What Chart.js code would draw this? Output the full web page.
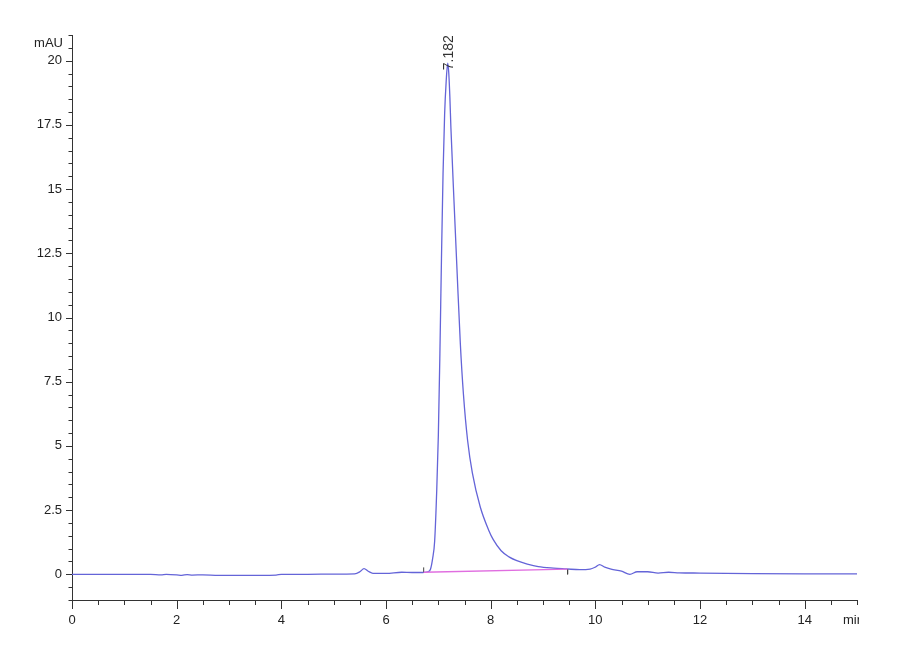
<!DOCTYPE html>
<html>
<head>
<meta charset="utf-8">
<title>Chromatogram</title>
<script src="https://cdn.jsdelivr.net/npm/chart.js@4.4.0/dist/chart.umd.min.js"></script>
<style>
  html, body { margin: 0; padding: 0; background: #fff; }
  canvas { display: block; }
</style>
</head>
<body>
<canvas id="myChart" width="900" height="660"></canvas>
<script>
// retention time (min) and absorbance (mAU)
const times = [0.0, 0.5, 1.0, 1.5, 1.7, 1.8, 2.0, 2.1, 2.2, 2.3, 2.5, 2.8, 3.2, 3.6, 3.9, 4.0, 4.5, 5.0, 5.4,
  5.5, 5.58, 5.66, 5.75, 6.0, 6.3, 6.5, 6.7, 6.8, 6.85, 6.89, 6.93, 6.97, 7.00, 7.03, 7.06, 7.09, 7.12,
  7.15, 7.18, 7.20, 7.22, 7.24, 7.30, 7.36, 7.42, 7.48, 7.56, 7.65, 7.80, 7.96, 8.05, 8.2, 8.35, 8.5, 8.7,
  8.91, 9.2, 9.45, 9.7, 9.9, 10.0, 10.08, 10.18, 10.3, 10.5, 10.66, 10.8, 11.0, 11.2, 11.4, 11.6, 12.0,
  13.0, 14.0, 15.0];
const mAU = [0.0, 0.0, 0.0, 0.0, -0.02, 0.0, -0.02, -0.04, -0.01, -0.03, -0.02, -0.04, -0.04, -0.04, -0.03, 0.0, 0.0, 0.01, 0.02,
  0.1, 0.22, 0.12, 0.04, 0.04, 0.08, 0.07, 0.07, 0.1, 0.2, 0.6, 1.3, 3.3, 5.4, 8.6, 12.3, 15.6, 17.9,
  19.2, 19.9, 19.5, 18.6, 17.4, 14.5, 11.7, 9.0, 7.0, 5.2, 3.95, 2.63, 1.73, 1.35, 0.92, 0.68, 0.53, 0.4,
  0.3, 0.24, 0.21, 0.18, 0.2, 0.28, 0.38, 0.28, 0.2, 0.12, 0.0, 0.1, 0.1, 0.05, 0.08, 0.06, 0.05,
  0.03, 0.02, 0.02];

// integration baseline of the main peak
const baseTimes = [6.72, 9.47];
const baseValues = [0.08, 0.2];
const startMark = [0.08, 0.27];
const endMark = [0.2, 0.0];

const peakTime = 7.182;
const peakHeight = 19.9;
const peakLabel = '7.182';

const xMajor = 2;
const yMajor = 2.5;
const minorStep = 0.5;

const isMultiple = (v, step) => Math.abs(v / step - Math.round(v / step)) < 1e-6;
const toPoints = (xs, ys) => xs.map((t, i) => ({x: t, y: ys[i]}));

const ticksPlugin = {
  id: 'hplcTicks',
  afterDraw(chart) {
    const c = chart.ctx;
    const x = chart.scales.x;
    const y = chart.scales.y;
    c.save();
    c.strokeStyle = '#333';
    c.lineWidth = 1;
    c.beginPath();
    x.ticks.forEach(t => {
      const px = Math.round(x.getPixelForValue(t.value)) + 0.5;
      const len = isMultiple(t.value, xMajor) ? 9 : 5;
      c.moveTo(px, x.top);
      c.lineTo(px, x.top + len);
    });
    y.ticks.forEach(t => {
      const py = Math.round(y.getPixelForValue(t.value)) + 0.5;
      const len = isMultiple(t.value, yMajor) && t.value >= 0 ? 6 : 3.5;
      c.moveTo(y.right - len, py);
      c.lineTo(y.right, py);
    });
    c.stroke();

    c.fillStyle = '#222';
    c.font = '13px "Liberation Sans", Arial, sans-serif';
    c.textAlign = 'right';
    c.textBaseline = 'middle';
    c.fillText('mAU', y.right - 9, 43);

    // axis unit, cut off at the axis end like the original
    c.save();
    c.beginPath();
    c.rect(0, 0, x.right + 2, chart.height);
    c.clip();
    c.textAlign = 'left';
    c.fillText('min', x.right - 14, 620);
    c.restore();

    // retention time label above the apex
    c.translate(x.getPixelForValue(peakTime) + 1, y.getPixelForValue(peakHeight) + 7);
    c.rotate(-Math.PI / 2);
    c.font = '14px "Liberation Sans", Arial, sans-serif';
    c.textAlign = 'left';
    c.fillStyle = '#333';
    c.fillText(peakLabel, 0, 0);
    c.restore();
  }
};

const ctx = document.getElementById('myChart').getContext('2d');

var myChart = new Chart(ctx, {
  type: 'line',
  data: {
    datasets: [
      {
        label: 'baseline',
        data: toPoints(baseTimes, baseValues),
        borderColor: '#e06ee0',
        borderWidth: 1.3,
        pointRadius: 0
      },
      {
        label: 'start',
        data: toPoints([baseTimes[0], baseTimes[0]], startMark),
        borderColor: '#444',
        borderWidth: 1,
        pointRadius: 0
      },
      {
        label: 'end',
        data: toPoints([baseTimes[1], baseTimes[1]], endMark),
        borderColor: '#444',
        borderWidth: 1,
        pointRadius: 0
      },
      {
        label: 'signal',
        data: toPoints(times, mAU),
        borderColor: '#6464d8',
        borderWidth: 1.3,
        pointRadius: 0,
        cubicInterpolationMode: 'monotone'
      }
    ]
  },
  options: {
    responsive: false,
    animation: false,
    layout: { padding: { top: 35, right: 43, left: 0, bottom: 0 } },
    plugins: { legend: { display: false }, tooltip: { enabled: false } },
    scales: {
      x: {
        type: 'linear',
        min: 0,
        max: 15,
        afterFit: s => { s.height = 60; },
        border: { display: true, color: '#333', width: 1 },
        grid: { display: true, drawOnChartArea: false, drawTicks: false },
        ticks: {
          stepSize: minorStep,
          maxTicksLimit: 100,
          autoSkip: false,
          maxRotation: 0,
          padding: 13,
          color: '#222',
          font: { family: '"Liberation Sans", Arial, sans-serif', size: 13 },
          callback: v => isMultiple(v, xMajor) ? String(Math.round(v)) : ''
        }
      },
      y: {
        type: 'linear',
        min: -1,
        max: 21,
        afterFit: s => { s.width = 72; },
        border: { display: true, color: '#333', width: 1 },
        grid: { display: true, drawOnChartArea: false, drawTicks: false },
        ticks: {
          stepSize: minorStep,
          maxTicksLimit: 100,
          autoSkip: false,
          padding: 10,
          color: '#222',
          font: { family: '"Liberation Sans", Arial, sans-serif', size: 13 },
          callback: v => (isMultiple(v, yMajor) && v >= 0) ? String(Math.round(v * 10) / 10) : ''
        }
      }
    }
  },
  plugins: [ticksPlugin]
});
</script>
</body>
</html>
